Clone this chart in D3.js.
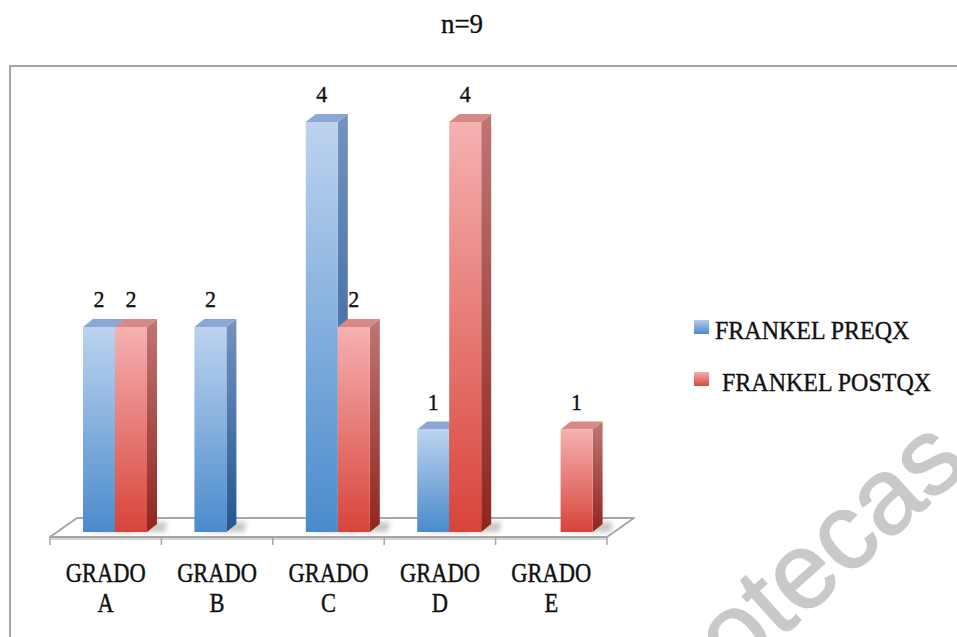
<!DOCTYPE html>
<html><head><meta charset="utf-8">
<script src="https://cdn.jsdelivr.net/npm/d3@7"></script>
<style>html,body{margin:0;padding:0;background:#fff;}svg{display:block;}</style>
</head><body>
<script>
const categories = ["GRADO A", "GRADO B", "GRADO C", "GRADO D", "GRADO E"];
const seriesNames = ["FRANKEL PREQX", "FRANKEL POSTQX"];
const preqx = [2, 2, 4, 1, 0];
const postqx = [2, 0, 2, 4, 1];
const title = "n=9";

const W = 957, H = 637;
const svg = d3.select("body").append("svg").attr("width", W).attr("height", H);
const defs = svg.append("defs");
const serif = "'Liberation Serif', 'Times New Roman', serif";

function grad(id, c1, c2) {
  const g = defs.append("linearGradient").attr("id", id).attr("x1", 0).attr("y1", 0).attr("x2", 0).attr("y2", 1);
  g.append("stop").attr("offset", "0%").attr("stop-color", c1);
  g.append("stop").attr("offset", "100%").attr("stop-color", c2);
}
grad("bFront", "#bdd3ef", "#4a8bcc");
grad("bSide", "#7592bf", "#225791");
grad("rFront", "#f5b1b1", "#d8443a");
grad("rSide", "#bf7674", "#91251e");
grad("bLeg", "#b3cbeb", "#4a8acb");
grad("rLeg", "#f4aeae", "#d8473d");
defs.append("filter").attr("id", "blur").attr("x", "-50%").attr("y", "-50%").attr("width", "200%").attr("height", "200%")
  .append("feGaussianBlur").attr("stdDeviation", 2.5);

const series = [
  {name: seriesNames[0], values: preqx, front: "url(#bFront)", side: "url(#bSide)", top: "#8ba7d5", leg: "url(#bLeg)"},
  {name: seriesNames[1], values: postqx, front: "url(#rFront)", side: "url(#rSide)", top: "#d68987", leg: "url(#rLeg)"}
];

// frame
svg.append("rect").attr("x", 10).attr("y", 66).attr("width", 970).attr("height", 600)
  .attr("fill", "none").attr("stroke", "#a3a3a3").attr("stroke-width", 2);

// watermark
svg.append("text").attr("transform", "translate(971,467) rotate(-42)")
  .attr("text-anchor", "end").attr("font-family", "'Liberation Sans', Arial, sans-serif")
  .attr("font-size", 108).attr("fill", "#c9c9c9").attr("stroke", "#c9c9c9").attr("stroke-width", 1.5).text("otecas");

function stext(g, x, y, str, size, sy, anchor) {
  return g.append("text").attr("transform", `translate(${x},${y}) scale(1,${sy})`)
    .attr("text-anchor", anchor || "middle").attr("font-family", serif).attr("font-size", size)
    .attr("fill", "#111").attr("stroke", "#111").attr("stroke-width", 0.35).text(str);
}

// title
stext(svg, 462, 33, title, 27, 1.05);

const x = d3.scaleBand().domain(categories).range([50, 607]).paddingInner(0).paddingOuter(0);
const xs = d3.scaleBand().domain(seriesNames).range([33, 97]);
const y = d3.scaleLinear().domain([0, 4]).range([532, 122]);
const frontY = 537, fdx = 27, fdy = -19;
const ddx = 10, ddy = -8;

// floor
const fl = svg.append("g");
const x0 = x.range()[0], x1 = x.range()[1];
fl.append("path").attr("d", `M${x0},${frontY} L${x0 + fdx},${frontY + fdy} L${x1 + fdx},${frontY + fdy} L${x1},${frontY} Z`)
  .attr("fill", "#fff").attr("stroke", "#a6a6a6").attr("stroke-width", 2).attr("stroke-linejoin", "round");
fl.append("line").attr("x1", x0).attr("x2", x1).attr("y1", frontY + 2).attr("y2", frontY + 2).attr("stroke", "#c8c8c8").attr("stroke-width", 1.5);
// ticks
fl.selectAll("line.tick").data(categories.concat(["_end"])).join("line").attr("class", "tick")
  .attr("x1", d => d === "_end" ? x1 : x(d)).attr("x2", d => d === "_end" ? x1 : x(d))
  .attr("y1", frontY).attr("y2", frontY + 8).attr("stroke", "#a6a6a6").attr("stroke-width", 1.5);

// bars
const bars = [];
categories.forEach((c, i) => {
  series.forEach(s => {
    bars.push({cat: c, s: s, v: s.values[i], x: x(c) + xs(s.name), w: xs.bandwidth()});
  });
});
const bg = svg.append("g");
// shadows
bg.selectAll("path.shadow").data(bars.filter(b => b.v > 0)).join("path").attr("class", "shadow")
  .attr("d", b => { const yb = y(0); return `M${b.x + 4},${yb} L${b.x + b.w + ddx + 8},${yb} L${b.x + b.w + ddx + 10},${yb - 10} L${b.x + b.w + ddx},${yb - 10} Z`; })
  .attr("fill", "#9a9a9a").attr("opacity", 0.55).attr("filter", "url(#blur)");

bars.filter(b => b.v > 0).forEach(b => {
  const g = bg.append("g");
  const yt = y(b.v), yb = y(0);
  g.append("path").attr("d", `M${b.x + b.w},${yt} L${b.x + b.w + ddx},${yt + ddy} L${b.x + b.w + ddx},${yb + ddy} L${b.x + b.w},${yb} Z`)
    .attr("fill", b.s.side);
  g.append("path").attr("d", `M${b.x},${yt} L${b.x + ddx},${yt + ddy} L${b.x + b.w + ddx},${yt + ddy} L${b.x + b.w},${yt} Z`)
    .attr("fill", b.s.top);
  g.append("rect").attr("x", b.x).attr("y", yt).attr("width", b.w).attr("height", yb - yt).attr("fill", b.s.front);
  stext(svg, b.x + b.w / 2, yt - 20, String(b.v), 22, 1.05);
});

// category labels
categories.forEach(c => {
  const parts = c.split(" ");
  const cx = x(c) + x.bandwidth() / 2;
  stext(svg, cx, 582, parts[0], 22.5, 1.18);
  stext(svg, cx, 612, parts[1], 22.5, 1.18);
});

// legend
const lg = svg.append("g");
series.forEach((s, i) => {
  const ly = 320 + i * 52;
  lg.append("rect").attr("x", 694).attr("y", ly).attr("width", 15).attr("height", 14).attr("fill", s.leg);
  stext(lg, i === 0 ? 715 : 722, ly + 19, s.name, 24, 1.08, "start");
});
</script>
</body></html>
